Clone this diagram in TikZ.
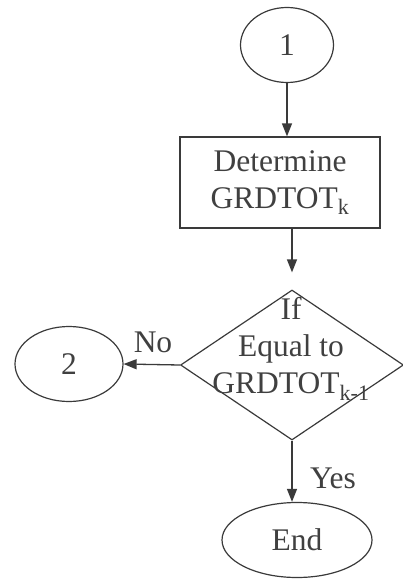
\documentclass[tikz,border=0pt]{standalone}
\usepackage{fontspec}
\setmainfont{Liberation Serif}
\usetikzlibrary{shapes.geometric,arrows.meta}
\definecolor{ink}{HTML}{3A3A3A}
\definecolor{txt}{HTML}{404040}
\tikzset{
  conn/.style={draw=ink, line width=1.3pt, -{Triangle[length=13pt,width=10pt]}},
  oval/.style={ellipse, draw=ink, line width=1.2pt, inner sep=0pt, text=txt},
  procbox/.style={rectangle, draw=ink, line width=1.2pt, inner sep=0pt, minimum width=200pt, minimum height=91pt, text=txt, align=center},
  decide/.style={diamond, draw=ink, line width=1.2pt, inner sep=0pt, minimum width=223pt, minimum height=150pt},
  lbl/.style={text=txt, inner sep=0pt},
}
\begin{document}
\begin{tikzpicture}[x=1pt,y=-1pt,font=\fontsize{31.5}{37}\selectfont]
\useasboundingbox (0,0) rectangle (403,580);
\node[oval, minimum width=93pt, minimum height=75pt] (c1) at (287,45) {1};
\node[procbox] (box) at (280,182.5) {Determine\\GRDTOT\textsubscript{k}};
\node[decide] (dec) at (292,365) {};
\node[lbl, align=center] (dect) at (291,349) {If\\Equal to\\GRDTOT\textsubscript{k-1}};
\node[oval, minimum width=108pt, minimum height=75pt] (c2) at (69,364) {2};
\node[oval, minimum width=150pt, minimum height=75pt] (e) at (297,540) {End};
\draw[conn] (c1.south) -- (c1.south |- box.north);
\draw[conn, shorten >=17pt] (box.south -| dec.north) -- (dec.north);
\draw[conn] (dec.west) -- (c2.east);
\draw[conn] (dec.south) -- (dec.south |- e.north);
\node[lbl] (no) at (153,342) {No};
\node[lbl] (yes) at (333,478) {Yes};
\end{tikzpicture}
\end{document}
